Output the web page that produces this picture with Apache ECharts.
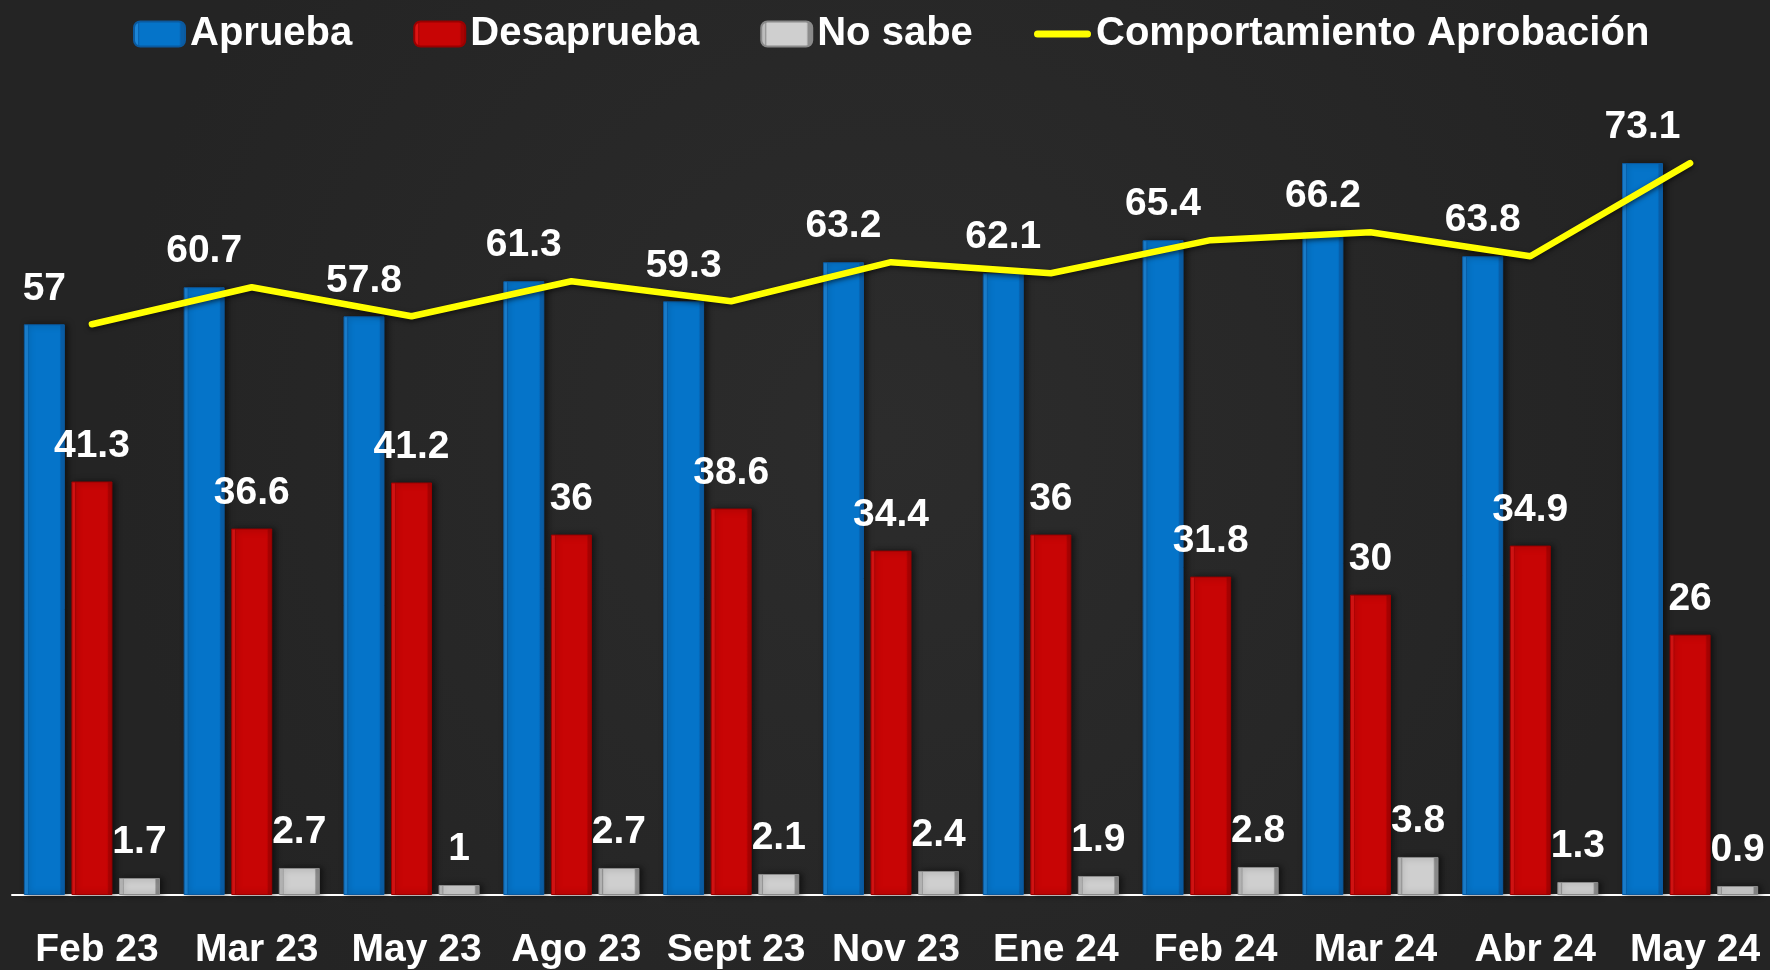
<!DOCTYPE html>
<html>
<head>
<meta charset="utf-8">
<script src="https://cdn.jsdelivr.net/npm/echarts@6/dist/echarts.min.js"></script>
<style>
html,body{margin:0;padding:0;background:#292929;}
#chart{width:1770px;height:970px;}
</style>
</head>
<body>
<div id="chart"></div>
<script>
const categories = ['Feb 23','Mar 23','May 23','Ago 23','Sept 23','Nov 23','Ene 24','Feb 24','Mar 24','Abr 24','May 24'];
const aprueba = [57, 60.7, 57.8, 61.3, 59.3, 63.2, 62.1, 65.4, 66.2, 63.8, 73.1];
const desaprueba = [41.3, 36.6, 41.2, 36, 38.6, 34.4, 36, 31.8, 30, 34.9, 26];
const noSabe = [1.7, 2.7, 1, 2.7, 2.1, 2.4, 1.9, 2.8, 3.8, 1.3, 0.9];
const comportamiento = [57, 60.7, 57.8, 61.3, 59.3, 63.2, 62.1, 65.4, 66.2, 63.8, 73.1];

function bevel(edgeL, face, edgeR, line) {
  return {
    type: 'linear', x: 0, y: 0, x2: 1, y2: 0,
    colorStops: [
      {offset: 0, color: edgeL},
      {offset: 0.09, color: edgeL},
      {offset: 0.1, color: line},
      {offset: 0.13, color: face},
      {offset: 0.87, color: face},
      {offset: 0.9, color: line},
      {offset: 0.91, color: edgeR},
      {offset: 1, color: edgeR}
    ]
  };
}

const labelStyle = {
  show: true, position: 'top', distance: 16,
  color: '#ffffff', fontFamily: 'Liberation Sans', fontWeight: 'bold', fontSize: 39
};

const barCommon = {
  type: 'bar', barWidth: 41, barGap: '16%',
  label: labelStyle
};

const legendText = {color: '#ffffff', fontFamily: 'Liberation Sans', fontWeight: 'bold', fontSize: 40};

const chart = echarts.init(document.getElementById('chart'));
chart.setOption({
  backgroundColor: {
    type: 'radial', x: 0.5, y: 0.45, r: 0.8,
    colorStops: [{offset: 0, color: '#2c2c2c'}, {offset: 1, color: '#242424'}]
  },
  animation: false,
  legend: [{
    left: 133, top: 14, padding: 0,
    itemWidth: 51, itemHeight: 25, itemGap: 61,
    textStyle: legendText,
    data: ['Aprueba', 'Desaprueba', 'No sabe']
  }, {
    left: 1034, top: 14, padding: 0,
    itemWidth: 57, itemHeight: 25,
    textStyle: legendText,
    data: [{name: 'Comportamiento Aprobación',
      icon: 'path://M3.5,0 L53.5,0 A3.5,3.5 0 0 1 53.5,7 L3.5,7 A3.5,3.5 0 0 1 3.5,0 Z',
      itemStyle: {color: '#ffff00'}}]
  }],
  grid: {left: 12, right: 0, top: 94, bottom: 75},
  xAxis: {
    type: 'category', data: categories,
    axisLine: {lineStyle: {color: '#ffffff', width: 2}},
    axisTick: {show: false},
    axisLabel: {color: '#ffffff', fontFamily: 'Liberation Sans', fontWeight: 'bold', fontSize: 39,
      margin: 36, interval: 0, padding: [0, 0, 0, 10]}
  },
  yAxis: {
    type: 'value', min: 0, max: 80, show: false,
    splitLine: {show: false}
  },
  series: [
    Object.assign({}, barCommon, {
      name: 'Aprueba', data: aprueba,
      itemStyle: {
        color: bevel('#1b84d6', '#0574c9', '#0a5fa8', '#0862b0'),
        borderColor: '#0b5aa0', borderWidth: 1,
        shadowColor: 'rgba(0,0,0,0.55)', shadowBlur: 6, shadowOffsetX: 3
      }
    }),
    Object.assign({}, barCommon, {
      name: 'Desaprueba', data: desaprueba,
      itemStyle: {
        color: bevel('#dd1414', '#c80505', '#a80303', '#b00404'),
        borderColor: '#9a0000', borderWidth: 1,
        shadowColor: 'rgba(0,0,0,0.55)', shadowBlur: 6, shadowOffsetX: 3
      }
    }),
    Object.assign({}, barCommon, {
      name: 'No sabe', data: noSabe,
      itemStyle: {
        color: bevel('#bdbdbd', '#cfcfcf', '#8c8c8c', '#9a9a9a'),
        borderColor: '#8a8a8a', borderWidth: 1,
        shadowColor: 'rgba(0,0,0,0.55)', shadowBlur: 6, shadowOffsetX: 3
      }
    }),
    {
      name: 'Comportamiento Aprobación', type: 'line', data: comportamiento,
      symbol: 'none', z: 5,
      lineStyle: {color: '#ffff00', width: 6.5, cap: 'round', join: 'round',
        shadowColor: 'rgba(0,0,0,0.6)', shadowBlur: 5, shadowOffsetY: 2},
      itemStyle: {color: '#ffff00'}
    }
  ]
});
</script>
</body>
</html>
